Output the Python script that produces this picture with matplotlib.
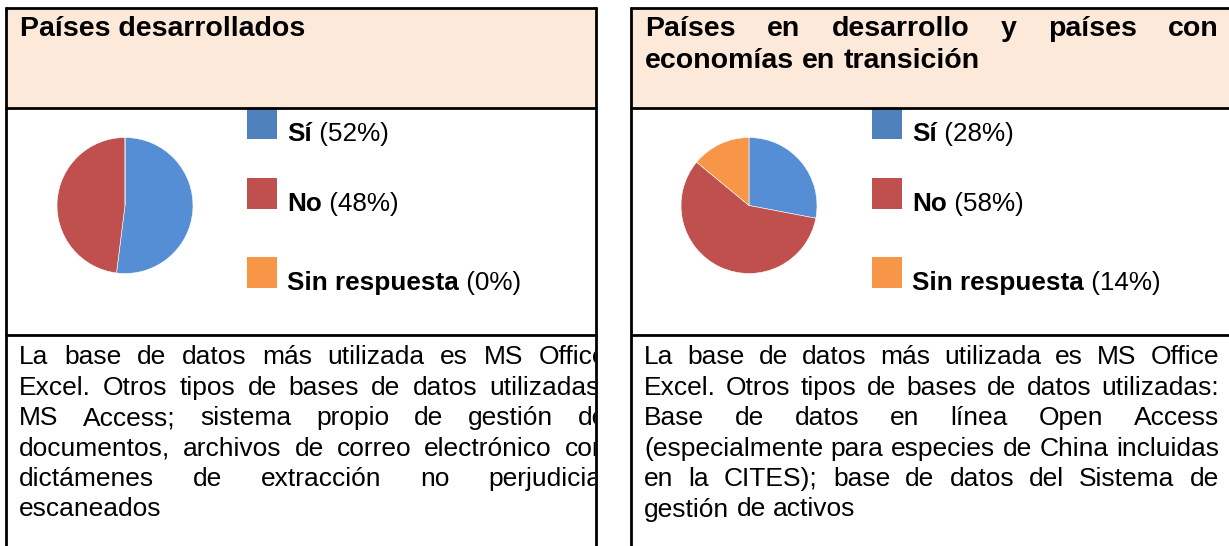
import matplotlib
matplotlib.use("Agg")
import matplotlib.pyplot as plt
from matplotlib.patches import Rectangle
from matplotlib.transforms import Bbox, TransformedBbox

plt.rcParams['font.family'] = ['Liberation Sans', 'DejaVu Sans']

W, H = 1229, 546

categorias = ["Sí", "No", "Sin respuesta"]
desarrollados = [52, 48, 0]
en_desarrollo = [28, 58, 14]

titulo_izq = ["Países desarrollados"]
titulo_der = ["Países en desarrollo y países con", "economías en transición"]

texto_izq = [
    "La base de datos más utilizada es MS Office",
    "Excel. Otros tipos de bases de datos utilizadas:",
    "MS Access; sistema propio de gestión de",
    "documentos, archivos de correo electrónico con",
    "dictámenes de extracción no perjudicial",
    "escaneados",
]
texto_der = [
    "La base de datos más utilizada es MS Office",
    "Excel. Otros tipos de bases de datos utilizadas:",
    "Base de datos en línea Open Access",
    "(especialmente para especies de China incluidas",
    "en la CITES); base de datos del Sistema de",
    "gestión de activos",
]

pie_colors = ['#558ED5', '#C0504D', '#F79646']
legend_colors = ['#4F81BD', '#C0504D', '#F79646']
header_fill = '#FDE9D9'

TITLE_SIZE = 20.5
LEGEND_SIZE = 18.8
BODY_SIZE = 19

fig = plt.figure(figsize=(W / 100, H / 100), dpi=100)
ax = fig.add_axes([0, 0, 1, 1])
ax.set_xlim(0, W)
ax.set_ylim(H, 0)
ax.axis('off')
fig.canvas.draw()
renderer = fig.canvas.get_renderer()


def text_width(s, size, weight='normal'):
    t = ax.text(0, 0, s, fontsize=size, fontweight=weight)
    w = t.get_window_extent(renderer).width
    t.remove()
    return w


def draw_justified(lines, x0, width, y0, step, size, weight='normal', clip=None):
    space = text_width("a a", size, weight) - text_width("aa", size, weight)
    for i, line in enumerate(lines):
        words = line.split()
        y = y0 + i * step
        texts = [ax.text(0, y, w, fontsize=size, fontweight=weight,
                         va='baseline', ha='left') for w in words]
        widths = [t.get_window_extent(renderer).width for t in texts]
        if i == len(lines) - 1 or len(words) == 1:
            gap = space
        else:
            gap = max((width - sum(widths)) / (len(words) - 1), space * 0.8)
        x = x0
        for t, w in zip(texts, widths):
            t.set_x(x)
            if clip is not None:
                t.set_clip_box(clip)
                t.set_clip_on(True)
            x += w + gap


def draw_panel(x_left, x_right, titulo, title_width, valores, pie_cx, sq_x, texto, body_width):
    lw = 2.0
    # header background
    ax.add_patch(Rectangle((x_left, 8), x_right - x_left, 99.5,
                           facecolor=header_fill, edgecolor='none'))
    # table rules
    for y in (8, 107.5, 335):
        ax.plot([x_left - 1, x_right + 1], [y, y], color='black', lw=lw, solid_capstyle='butt')
    ax.plot([x_left, x_left], [7, H], color='black', lw=lw, solid_capstyle='butt')
    if x_right < W:
        ax.plot([x_right, x_right], [7, H], color='black', lw=lw, solid_capstyle='butt')

    # title
    if len(titulo) == 1:
        ax.text(x_left + 14, 36, titulo[0], fontsize=TITLE_SIZE, fontweight='bold',
                va='baseline', ha='left')
    else:
        draw_justified(titulo, x_left + 14, title_width, 36, 32, TITLE_SIZE, weight='bold')

    # pie
    r = 68
    cy = 205.5
    pax = fig.add_axes([(pie_cx - r) / W, (H - cy - r) / H, 2 * r / W, 2 * r / H])
    pax.pie(valores, colors=pie_colors, startangle=90, counterclock=False,
            radius=1, wedgeprops=dict(edgecolor='white', linewidth=0.4))
    pax.set_xlim(-1, 1)
    pax.set_ylim(-1, 1)
    pax.axis('off')

    # legend
    sq_tops = [108, 178, 257]
    for cat, val, col, top in zip(categorias, valores, legend_colors, sq_tops):
        ax.add_patch(Rectangle((sq_x, top), 30, 31, facecolor=col, edgecolor='none'))
        tx = sq_x + 40
        base = top + 33
        t = ax.text(tx, base, cat, fontsize=LEGEND_SIZE, fontweight='bold',
                    va='baseline', ha='left')
        wb = t.get_window_extent(renderer).width
        ax.text(tx + wb, base, f" ({val}%)", fontsize=LEGEND_SIZE, va='baseline', ha='left')

    # body text
    clip = TransformedBbox(Bbox([[x_left, 336], [x_right - 1, H]]), ax.transData)
    draw_justified(texto, x_left + 13, body_width, 364.5, 30.4, BODY_SIZE, clip=clip)


draw_panel(6, 596, titulo_izq, 0, desarrollados, 125, 247, texto_izq, 588)
draw_panel(631, W + 2, titulo_der, 574, en_desarrollo, 749, 872, texto_der, 575)

fig.savefig("out.png", dpi=100)
